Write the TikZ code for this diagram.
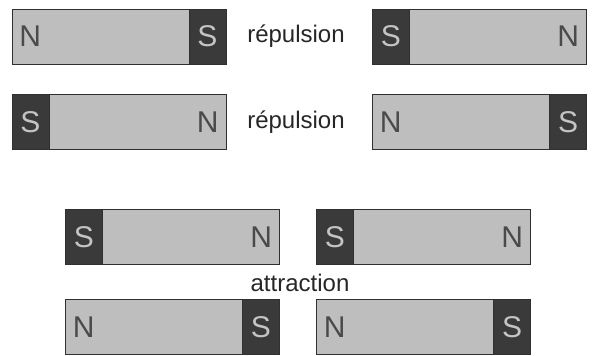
\documentclass[tikz,border=0pt]{standalone}
\usepackage{fontspec}
\setmainfont{Liberation Sans}
\definecolor{barlight}{HTML}{BEBEBE}
\definecolor{poledark}{HTML}{3A3A3A}
\definecolor{edgegrey}{HTML}{303030}
\definecolor{letterdark}{HTML}{4A4A4A}
\definecolor{letterlight}{HTML}{C4C4C4}
\tikzset{
    bar/.style={draw=edgegrey, line width=0.9pt, fill=barlight,
        minimum width=214pt, minimum height=55pt, inner sep=0pt},
    southpole/.style={draw=edgegrey, line width=0.9pt, fill=poledark,
        text=letterlight, minimum width=37pt, minimum height=55pt,
        inner sep=0pt, font=\fontsize{30}{36}\selectfont},
    northpole/.style={text=letterdark, minimum width=37pt,
        minimum height=55pt, inner sep=0pt,
        font=\fontsize{30}{36}\selectfont},
    caption/.style={text=black!85, inner sep=0pt,
        font=\fontsize{24}{29}\selectfont}
}

\begin{document}
\begin{tikzpicture}[x=1pt, y=-1pt]
    \useasboundingbox (0,0) rectangle (592,356);

    % Magnets: name / x / y / S side / N side
    \foreach \m/\x/\y/\s/\n in {
        RaL/119/36.5/east/west, RaR/479.5/36.5/west/east,
        RbL/119/122/west/east, RbR/479.5/122/east/west,
        RcL/172.5/237/west/east, RcR/423.5/237/west/east,
        RdL/172.5/327/east/west, RdR/423.5/327/east/west}
    {
        \node[bar] (\m) at (\x,\y) {};
        \node[southpole, anchor=\s] (\m-S) at (\m.\s) {S};
        \node[northpole, anchor=\n] (\m-N) at (\m.\n) {N};
    }

    % Captions
    \node[caption] (rep1) at (296,36.5) {répulsion};
    \node[caption] (rep2) at (296,122) {répulsion};
    \node[caption] (attr) at (300,283) {attraction};
\end{tikzpicture}
\end{document}
